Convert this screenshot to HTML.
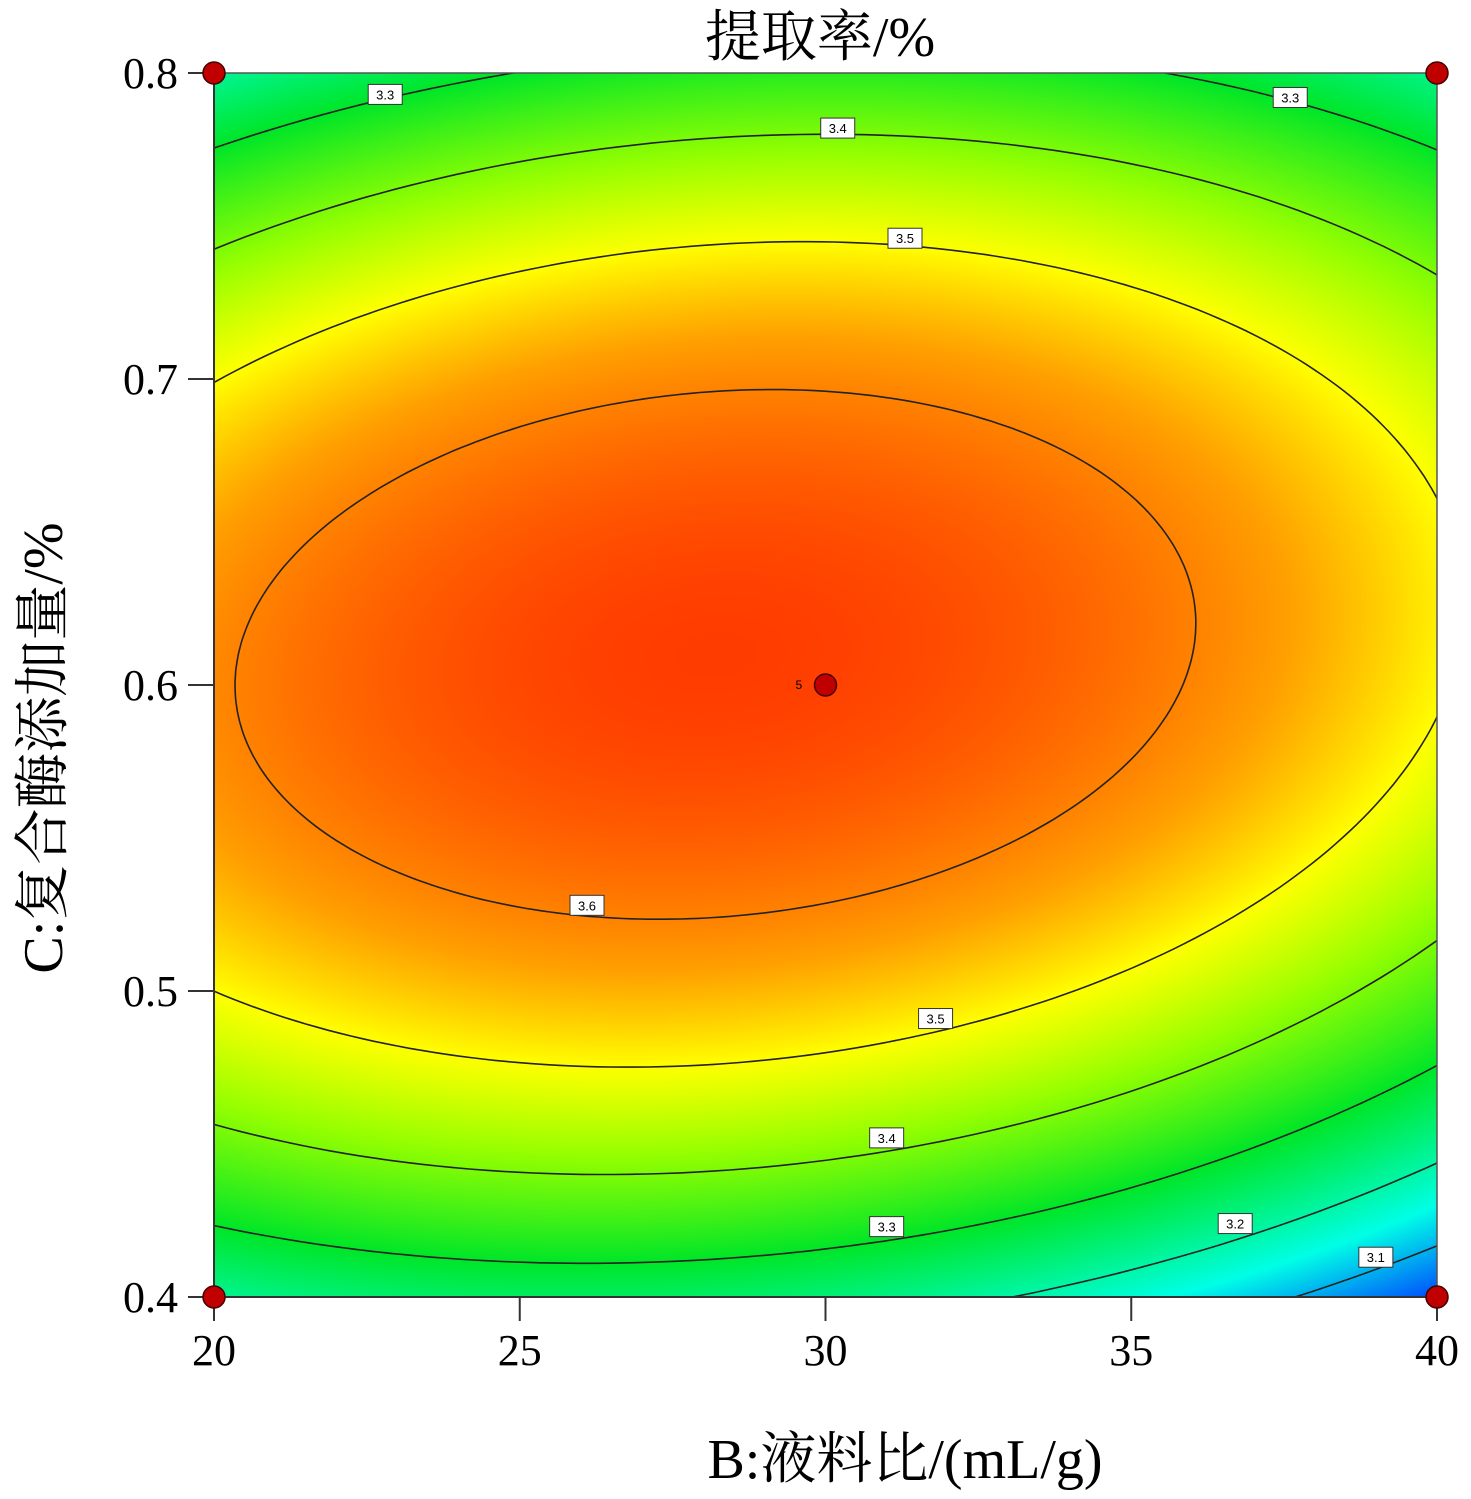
<!DOCTYPE html>
<html><head><meta charset="utf-8">
<style>
html,body{margin:0;padding:0;background:#fff;}
#wrap{position:relative;width:1471px;height:1499px;overflow:hidden;font-family:"Liberation Serif","Noto Serif CJK SC",serif;}
canvas{position:absolute;left:214px;top:73px;}
svg{position:absolute;left:0;top:0;}
</style></head>
<body>
<div id="wrap">
<canvas id="cv" width="1223" height="1224"></canvas>
<svg id="sv" width="1471" height="1499"></svg>
</div>
<script>
// Model (coded units): Y = M - a*u^2 - b*v^2 + c*u*v, u=x-x0, v=y-y0
const modelCoef = [3.67, 0.115, 0.379, 0.049];   // M, a, b, c
const modelCenter = [-0.18, 0.05];               // x0, y0 (coded)
const contourLevels = [3.1, 3.2, 3.3, 3.4, 3.5, 3.6];
const xTicks = [20, 25, 30, 35, 40];
const yTicks = [0.4, 0.5, 0.6, 0.7, 0.8];
const designPointsB = [20, 40, 20, 40, 30];
const designPointsC = [0.4, 0.4, 0.8, 0.8, 0.6];
const labelLevels = ["3.3","3.4","3.3","3.5","3.6","3.5","3.4","3.3","3.2","3.1"];
const labelB = [22.8, 30.2, 37.6, 31.3, 26.1, 31.8, 31.0, 31.0, 36.7, 39.0];
const labelC = [0.793, 0.782, 0.792, 0.746, 0.528, 0.491, 0.452, 0.423, 0.424, 0.413];

const L=214,R=1437,T=73,B=1297;
const sx=b=>L+(b-20)/20*(R-L);
const sy=c=>B-(c-0.4)/0.4*(B-T);
const NS="http://www.w3.org/2000/svg";
const sv=document.getElementById('sv');
function el(t,a){const e=document.createElementNS(NS,t);for(const k in a)e.setAttribute(k,a[k]);sv.appendChild(e);return e;}
function f(x,y){const [M,a,b,c]=modelCoef;const u=x-modelCenter[0],v=y-modelCenter[1];return M-a*u*u-b*v*v+c*u*v;}
const stops=[[3.02,[0,60,255]],[3.15,[0,255,230]],[3.3,[0,230,40]],[3.42,[150,255,0]],[3.5,[255,255,0]],[3.57,[255,160,0]],[3.67,[255,60,0]]];
function col(v){if(v<=stops[0][0])return stops[0][1];for(let i=1;i<stops.length;i++){if(v<=stops[i][0]){const t=(v-stops[i-1][0])/(stops[i][0]-stops[i-1][0]);return stops[i-1][1].map((q,k)=>q+(stops[i][1][k]-q)*t);}}return stops[stops.length-1][1];}
const cv=document.getElementById('cv'),ctx=cv.getContext('2d');
const W=cv.width,H=cv.height,img=ctx.createImageData(W,H);
for(let j=0;j<H;j++){const y=1-2*j/(H-1);for(let i=0;i<W;i++){const x=-1+2*i/(W-1);const c=col(f(x,y));const p=(j*W+i)*4;img.data[p]=c[0];img.data[p+1]=c[1];img.data[p+2]=c[2];img.data[p+3]=255;}}
ctx.putImageData(img,0,0);
const defs=el('defs',{});const cp=document.createElementNS(NS,'clipPath');cp.setAttribute('id','clip');defs.appendChild(cp);
const cr=document.createElementNS(NS,'rect');cr.setAttribute('x',L);cr.setAttribute('y',T);cr.setAttribute('width',R-L);cr.setAttribute('height',B-T);cp.appendChild(cr);
const [M,a,b,c]=modelCoef;
const tr=a+b,det=a*b-c*c/4,disc=Math.sqrt(tr*tr/4-det);
const l1=tr/2+disc,l2=tr/2-disc;
let e1=[-c/2,l1-a];const n1=Math.hypot(e1[0],e1[1]);e1=[e1[0]/n1,e1[1]/n1];const e2=[-e1[1],e1[0]];
contourLevels.forEach(lv=>{
  const k=M-lv;if(k<=0)return;
  const r1=Math.sqrt(k/l1),r2=Math.sqrt(k/l2);let d='';
  for(let i=0;i<=360;i++){const t=i/360*2*Math.PI;const u=r1*Math.cos(t)*e1[0]+r2*Math.sin(t)*e2[0];const v=r1*Math.cos(t)*e1[1]+r2*Math.sin(t)*e2[1];
    const x=u+modelCenter[0],y=v+modelCenter[1];const px=L+(x+1)/2*(R-L),py=B-(y+1)/2*(B-T);d+=(i?'L':'M')+px.toFixed(1)+' '+py.toFixed(1);}
  const p=el('path',{d:d,fill:'none',stroke:'#222','stroke-width':1.6,'clip-path':'url(#clip)'});
  
  
});
labelLevels.forEach((t,i)=>{const x=sx(labelB[i]),y=sy(labelC[i]);
  const g=el('g',{});
  const r=document.createElementNS(NS,'rect');r.setAttribute('x',x-17);r.setAttribute('y',y-10);r.setAttribute('width',34);r.setAttribute('height',20);r.setAttribute('fill','#fff');r.setAttribute('stroke','#333');g.appendChild(r);
  const tx=document.createElementNS(NS,'text');tx.setAttribute('x',x);tx.setAttribute('y',y+5);tx.setAttribute('text-anchor','middle');tx.setAttribute('font-size','13');tx.setAttribute('font-family','Liberation Sans, sans-serif');tx.textContent=t;g.appendChild(tx);sv.appendChild(g);});
let fr=el('rect',{x:L,y:T,width:R-L,height:B-T,fill:'none',stroke:'#555','stroke-width':1.5});

xTicks.forEach(v=>{const x=sx(v);const ln=el('line',{x1:x,y1:B,x2:x,y2:B+24,stroke:'#333','stroke-width':2});
  const t=el('text',{x:x,y:B+68,'text-anchor':'middle','font-size':44});t.textContent=v;});
yTicks.forEach(v=>{const y=sy(v);const ln=el('line',{x1:L-26,y1:y,x2:L,y2:y,stroke:'#333','stroke-width':2});
  const t=el('text',{x:178,y:y+15,'text-anchor':'end','font-size':44});t.textContent=v.toFixed(1);});
let yl=el('line',{x1:L,y1:T,x2:L,y2:B,stroke:'#333','stroke-width':2});
let xl=el('line',{x1:L,y1:B,x2:R,y2:B,stroke:'#333','stroke-width':2});
designPointsB.forEach((bv,i)=>{const p=el('circle',{cx:sx(bv),cy:sy(designPointsC[i]),r:11,fill:'#c00000',stroke:'#400','stroke-width':1.5});});
let ct=el('text',{x:sx(30)-30,y:sy(0.6)+4,'font-size':12,'font-family':'Liberation Sans, sans-serif'});ct.textContent='5';
let ti=el('text',{x:820,y:56,'text-anchor':'middle','font-size':56});ti.textContent='提取率/%';
let xt=el('text',{x:905,y:1478,'text-anchor':'middle','font-size':56});xt.textContent='B:液料比/(mL/g)';
let yt=el('text',{x:0,y:0,'text-anchor':'middle','font-size':56,transform:'translate(62,748) rotate(-90)'});yt.textContent='C:复合酶添加量/%';
</script>
</body></html>
